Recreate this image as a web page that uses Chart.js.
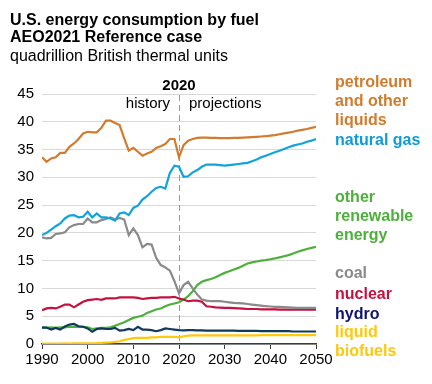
<!DOCTYPE html>
<html>
<head>
<meta charset="utf-8">
<script src="https://cdn.jsdelivr.net/npm/chart.js@4"></script>
<style>
  html, body { margin: 0; padding: 0; background: #fff; }
  #wrap { position: relative; width: 432px; height: 384px; }
</style>
</head>
<body>
<div id="wrap"><canvas id="chartCanvas" width="432" height="384"></canvas></div>
<script>
const years = [1990, 1991, 1992, 1993, 1994, 1995, 1996, 1997, 1998, 1999,
    2000, 2001, 2002, 2003, 2004, 2005, 2006, 2007, 2008, 2009,
    2010, 2011, 2012, 2013, 2014, 2015, 2016, 2017, 2018, 2019,
    2020, 2021, 2022, 2023, 2024, 2025, 2026, 2027, 2028, 2029,
    2030, 2031, 2032, 2033, 2034, 2035, 2036, 2037, 2038, 2039,
    2040, 2041, 2042, 2043, 2044, 2045, 2046, 2047, 2048, 2049, 2050];

const petroleum = [33.6, 32.8, 33.4, 33.6, 34.4, 34.4, 35.5, 36.1, 36.9, 37.9,
    38.2, 38.1, 38.1, 38.9, 40.2, 40.2, 39.8, 39.4, 37.0, 34.8,
    35.3, 34.6, 33.9, 34.3, 34.6, 35.3, 35.6, 36.0, 36.9, 36.9,
    33.6, 35.8, 36.6, 36.9, 37.1, 37.15, 37.15, 37.1, 37.1, 37.05,
    37.05, 37.05, 37.1, 37.1, 37.15, 37.2, 37.25, 37.3, 37.35, 37.4,
    37.5, 37.6, 37.75, 37.9, 38.05, 38.2, 38.4, 38.55, 38.7, 38.9, 39.1];

const naturalGas = [19.6, 20.0, 20.6, 21.2, 21.7, 22.6, 23.1, 23.2, 22.8, 22.9,
    23.8, 22.8, 23.5, 22.8, 22.8, 22.6, 22.2, 23.5, 23.7, 23.2,
    24.5, 24.9, 26.0, 26.6, 27.4, 28.1, 28.3, 28.0, 30.8, 32.1,
    31.9, 30.1, 30.2, 30.9, 31.3, 31.9, 32.3, 32.3, 32.3, 32.2,
    32.1, 32.2, 32.3, 32.4, 32.5, 32.6, 32.9, 33.2, 33.6, 33.9,
    34.2, 34.5, 34.8, 35.1, 35.4, 35.7, 35.9, 36.1, 36.4, 36.6, 36.9];

const coal = [19.2, 19.0, 19.1, 19.8, 19.9, 20.1, 21.0, 21.4, 21.6, 21.6,
    22.6, 21.9, 21.9, 22.3, 22.5, 22.8, 22.4, 22.7, 22.4, 19.6,
    20.8, 19.6, 17.4, 18.0, 17.9, 15.5, 14.2, 13.8, 13.2, 11.3,
    9.1, 10.6, 11.2, 10.0, 8.9, 8.0, 7.8, 7.7, 7.7, 7.7,
    7.6, 7.5, 7.4, 7.35, 7.3, 7.2, 7.1, 7.0, 6.9, 6.8,
    6.75, 6.7, 6.7, 6.65, 6.6, 6.55, 6.5, 6.5, 6.5, 6.5, 6.5];

const nuclear = [6.1, 6.4, 6.5, 6.4, 6.7, 7.1, 7.1, 6.6, 7.1, 7.6,
    7.9, 8.0, 8.1, 7.96, 8.2, 8.2, 8.2, 8.4, 8.4, 8.4,
    8.4, 8.3, 8.1, 8.2, 8.3, 8.3, 8.4, 8.4, 8.4, 8.5,
    8.2, 8.0, 7.7, 7.8, 7.8, 7.6, 6.8, 6.7, 6.6, 6.55,
    6.5, 6.5, 6.45, 6.4, 6.35, 6.3, 6.3, 6.3, 6.25, 6.25,
    6.25, 6.25, 6.2, 6.2, 6.2, 6.2, 6.2, 6.2, 6.2, 6.2, 6.2];

const otherRenewable = [2.9, 2.9, 3.0, 2.9, 3.0, 3.0, 3.1, 3.1, 3.1, 3.1,
    3.0, 2.7, 2.8, 2.9, 2.9, 3.0, 3.3, 3.6, 3.9, 4.3,
    4.7, 4.9, 5.1, 5.6, 5.9, 6.2, 6.4, 6.8, 7.1, 7.3,
    7.5, 8.0, 8.6, 9.5, 10.6, 11.2, 11.5, 11.7, 12.0, 12.4,
    12.8, 13.1, 13.4, 13.7, 14.1, 14.5, 14.7, 14.85, 15.0, 15.1,
    15.25, 15.4, 15.6, 15.8, 16.0, 16.3, 16.6, 16.85, 17.1, 17.3, 17.5];

const hydro = [3.0, 2.95, 2.6, 2.9, 2.6, 3.15, 3.5, 3.6, 3.2, 3.1,
    2.8, 2.2, 2.7, 2.8, 2.7, 2.7, 2.9, 2.4, 2.5, 2.7,
    2.5, 3.1, 2.6, 2.6, 2.5, 2.3, 2.5, 2.8, 2.7, 2.6,
    2.5, 2.45, 2.5, 2.5, 2.45, 2.45, 2.4, 2.4, 2.4, 2.4,
    2.4, 2.4, 2.4, 2.35, 2.35, 2.35, 2.35, 2.35, 2.3, 2.3,
    2.3, 2.3, 2.3, 2.3, 2.3, 2.25, 2.25, 2.25, 2.25, 2.25, 2.25];

const liquidBiofuels = [0.05, 0.06, 0.07, 0.08, 0.09, 0.1, 0.08, 0.1, 0.11, 0.11,
    0.12, 0.12, 0.15, 0.2, 0.24, 0.27, 0.38, 0.5, 0.75, 0.88,
    1.05, 1.1, 1.1, 1.12, 1.18, 1.2, 1.3, 1.3, 1.3, 1.3,
    1.2, 1.4, 1.5, 1.55, 1.55, 1.55, 1.55, 1.55, 1.55, 1.55,
    1.55, 1.55, 1.55, 1.55, 1.55, 1.55, 1.55, 1.55, 1.6, 1.6,
    1.6, 1.6, 1.6, 1.6, 1.6, 1.6, 1.6, 1.6, 1.6, 1.6, 1.6];

const yTicks = [0, 5, 10, 15, 20, 25, 30, 35, 40, 45];
const xTicks = [1990, 2000, 2010, 2020, 2030, 2040, 2050];

const FONT = '"Liberation Sans", Arial, sans-serif';

function toPoints(values) {
    return values.map((v, i) => ({ x: years[i], y: v }));
}

function line(label, values, color) {
    return {
        label: label,
        data: toPoints(values),
        borderColor: color,
        backgroundColor: color,
        borderWidth: 2.2,
        pointRadius: 0,
        tension: 0,
        fill: false
    };
}

// right-side series labels, title, and the 2020 divider
const annotations = {
    id: 'annotations',
    beforeDatasetsDraw(chart) {
        const ctx = chart.ctx;
        const x = chart.scales.x.getPixelForValue(2020);
        ctx.save();
        ctx.strokeStyle = '#9a9a9a';
        ctx.lineWidth = 1;
        ctx.setLineDash([6, 4]);
        ctx.beginPath();
        ctx.moveTo(Math.round(x) + 0.5, 95);
        ctx.lineTo(Math.round(x) + 0.5, chart.chartArea.bottom);
        ctx.stroke();
        ctx.restore();
    },
    afterDraw(chart) {
        const ctx = chart.ctx;
        const x = chart.scales.x.getPixelForValue(2020);
        ctx.save();
        ctx.fillStyle = '#000';
        ctx.textBaseline = 'alphabetic';
        ctx.textAlign = 'left';
        ctx.font = 'bold 16px ' + FONT;
        ctx.fillText('U.S. energy consumption by fuel', 10, 25);
        ctx.fillText('AEO2021 Reference case', 10, 42);
        ctx.font = '16px ' + FONT;
        ctx.fillText('quadrillion British thermal units', 10, 61);

        ctx.font = 'bold 15px ' + FONT;
        ctx.textAlign = 'center';
        ctx.fillText('2020', x, 90);
        ctx.font = '15px ' + FONT;
        ctx.textAlign = 'right';
        ctx.fillText('history', x - 9, 108);
        ctx.textAlign = 'left';
        ctx.fillText('projections', x + 10, 108);

        const labels = [
            ['petroleum', '#d27b2d', 83], ['and other', '#d27b2d', 102], ['liquids', '#d27b2d', 121],
            ['natural gas', '#0e9bd8', 141],
            ['other', '#4db03b', 198], ['renewable', '#4db03b', 217], ['energy', '#4db03b', 236],
            ['coal', '#8a8a8a', 274],
            ['nuclear', '#c5113f', 295],
            ['hydro', '#0e1470', 315],
            ['liquid', '#ffc80b', 333], ['biofuels', '#ffc80b', 352]
        ];
        ctx.font = 'bold 16px ' + FONT;
        ctx.textBaseline = 'middle';
        labels.forEach(([text, color, y]) => {
            ctx.fillStyle = color;
            ctx.fillText(text, 335, y);
        });
        ctx.restore();
    }
};

const ctx = document.getElementById('chartCanvas').getContext('2d');
new Chart(ctx, {
    type: 'line',
    data: {
        datasets: [
            line('petroleum and other liquids', petroleum, '#d27b2d'),
            line('natural gas', naturalGas, '#10a3dc'),
            line('coal', coal, '#8a8a8a'),
            line('nuclear', nuclear, '#c5113f'),
            line('hydro', hydro, '#0f3a5c'),
            line('other renewable energy', otherRenewable, '#4db03b'),
            line('liquid biofuels', liquidBiofuels, '#ffc80b')
        ]
    },
    options: {
        responsive: false,
        animation: false,
        layout: { padding: { top: 94, right: 116, left: 0, bottom: 0 } },
        plugins: {
            legend: { display: false },
            title: { display: false },
            tooltip: { enabled: false }
        },
        scales: {
            x: {
                type: 'linear',
                min: 1990,
                max: 2050,
                afterFit(scale) { scale.height = 40; },
                afterBuildTicks(scale) { scale.ticks = xTicks.map(v => ({ value: v })); },
                ticks: {
                    color: '#000',
                    font: { family: FONT, size: 15 },
                    padding: 2,
                    maxRotation: 0,
                    callback: v => String(v)
                },
                grid: {
                    display: true,
                    drawOnChartArea: false,
                    drawTicks: true,
                    tickLength: 5,
                    color: '#3a3a3a'
                },
                border: { display: true, color: '#3a3a3a', width: 1.5 }
            },
            y: {
                min: 0,
                max: 45,
                afterFit(scale) { scale.width = 42; },
                afterBuildTicks(scale) { scale.ticks = yTicks.map(v => ({ value: v })); },
                ticks: {
                    color: '#000',
                    font: { family: FONT, size: 15 },
                    padding: 8
                },
                grid: {
                    color: '#d9d9d9',
                    lineWidth: 1,
                    drawTicks: false
                },
                border: { display: false }
            }
        }
    },
    plugins: [annotations]
});
</script>
</body>
</html>
